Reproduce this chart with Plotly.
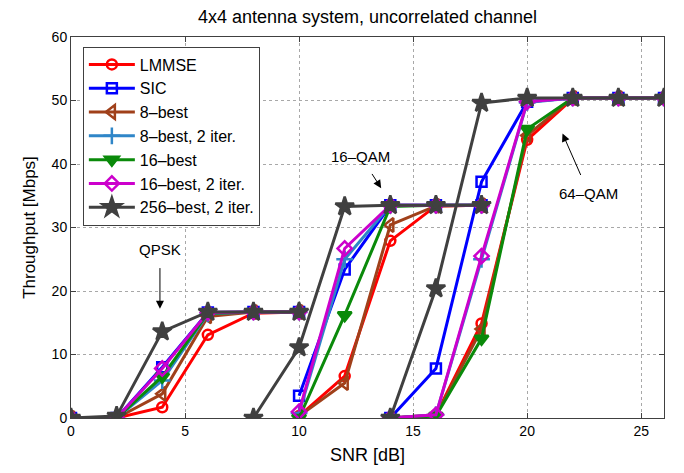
import plotly.graph_objects as go

# SNR grids for each modulation regime
snr_qpsk = [0, 2, 4, 6, 8, 10]
snr_16qam = [8, 10, 12, 14, 16, 18]
snr_64qam = [14, 16, 18, 20, 22, 24, 26]

series_names = ["LMMSE", "SIC", "8\u2013best", "8\u2013best, 2 iter.", "16\u2013best",
                "16\u2013best, 2 iter.", "256\u2013best, 2 iter."]

# Throughput [Mbps]; None = no point at that SNR
qpsk = {
    "LMMSE":   [0, 0, 1.7, 13.1, 16.5, 16.7],
    "SIC":     [0, 0, 8.0, 16.6, 16.7, 16.7],
    "8b":      [0, 0, 3.8, 16.0, 16.7, 16.7],
    "8b2":     [0, 0, 5.9, 16.4, 16.7, 16.7],
    "16b":     [0, 0, 6.5, 16.5, 16.7, 16.7],
    "16b2":    [0, 0, 7.8, 16.6, 16.7, 16.7],
    "256b2":   [0, 0.3, 13.6, 16.7, 16.7, 16.7],
}
qam16 = {
    "LMMSE":   [None, 0.3, 6.6, 27.9, 33.4, 33.5],
    "SIC":     [None, 3.5, 23.4, 33.5, 33.5, 33.5],
    "8b":      [None, 0.3, 5.5, 30.4, 33.4, 33.5],
    "8b2":     [None, 0.8, 25.0, 33.5, 33.5, 33.5],
    "16b":     [None, 0.0, 16.2, 33.3, 33.5, 33.5],
    "16b2":    [None, 1.0, 26.7, 33.5, 33.5, 33.5],
    "256b2":   [0.0, 11.1, 33.3, 33.5, 33.5, 33.5],
}
qam64 = {
    "LMMSE":   [0, 0.5, 14.9, 43.8, 50.3, 50.4, 50.4],
    "SIC":     [0, 7.8, 37.2, 49.8, 50.4, 50.4, 50.4],
    "8b":      [0, 0.4, 14.0, 44.5, 50.4, 50.4, 50.4],
    "8b2":     [0, 0.5, 25.0, 49.7, 50.4, 50.4, 50.4],
    "16b":     [0, 0.3, 12.5, 45.5, 50.4, 50.4, 50.4],
    "16b2":    [0, 0.5, 25.5, 49.8, 50.4, 50.4, 50.4],
    "256b2":   [0, 20.4, 49.6, 50.4, 50.4, 50.4, 50.4],
}

keys = ["LMMSE", "SIC", "8b", "8b2", "16b", "16b2", "256b2"]
colors = ["#ff0000", "#0000ff", "#a0401a", "#2f86c8", "#0a8a0a", "#cc00cc", "#404040"]
symbols = ["circle-open", "square-open", "triangle-left-open", "cross-thin-open",
           "triangle-down", "diamond-open", "star"]
msizes = [10, 10, 12, 12, 12, 11, 14]

FONT = "Liberation Sans, Arial, sans-serif"

fig = go.Figure()
for k, name, c, s, ms in zip(keys, series_names, colors, symbols, msizes):
    xs, ys = [], []
    for grid, d in ((snr_qpsk, qpsk), (snr_16qam, qam16), (snr_64qam, qam64)):
        for x, y in zip(grid, d[k]):
            if y is not None:
                xs.append(x)
                ys.append(y)
        xs.append(None)
        ys.append(None)
    fig.add_trace(go.Scatter(
        x=xs, y=ys, name=name, mode="lines+markers", connectgaps=False,
        line=dict(color=c, width=3),
        marker=dict(symbol=s, size=ms, color=c, line=dict(color=c, width=2.5)),
    ))

ann_font = dict(family=FONT, size=15, color="black")
annotations = [
    dict(text="QPSK", x=3.9, y=17.2, ax=3.9, ay=26.6),
    dict(text="16\u2013QAM", x=13.6, y=36.2, ax=12.7, ay=41.2),
    dict(text="64\u2013QAM", x=21.55, y=44.8, ax=22.7, ay=35.4),
]
for a in annotations:
    fig.add_annotation(
        text=a["text"], x=a["x"], y=a["y"], ax=a["ax"], ay=a["ay"],
        xref="x", yref="y", axref="x", ayref="y",
        showarrow=True, arrowhead=2, arrowsize=1.6, arrowwidth=1, arrowcolor="black",
        font=ann_font, standoff=0, startstandoff=9,
    )

axis_common = dict(
    showline=True, linecolor="#404040", linewidth=1, mirror="ticks",
    showgrid=True, gridcolor="#a8a8a8", griddash="dot", gridwidth=1,
    ticks="inside", ticklen=5, tickcolor="#404040", zeroline=False,
    tickfont=dict(family=FONT, size=14, color="black"),
)

fig.update_layout(
    width=676, height=465,
    margin=dict(l=63, r=20, t=29, b=55),
    paper_bgcolor="white", plot_bgcolor="white",
    title=dict(text="4x4 antenna system, uncorrelated channel", x=0.5, xanchor="center",
               xref="paper", y=0.981, yanchor="middle",
               font=dict(family=FONT, size=18, color="black")),
    xaxis=dict(range=[0, 26], tickvals=[0, 5, 10, 15, 20, 25],
               title=dict(text="SNR [dB]", standoff=10,
                          font=dict(family=FONT, size=18, color="black")),
               **axis_common),
    yaxis=dict(range=[0, 60], tickvals=[0, 10, 20, 30, 40, 50, 60],
               title=dict(text="Throughput [Mbps]", standoff=11,
                          font=dict(family=FONT, size=17, color="black")),
               **axis_common),
    legend=dict(x=0.02, y=0.975, xanchor="left", yanchor="top",
                bgcolor="white", bordercolor="#404040", borderwidth=1,
                font=dict(family=FONT, size=16, color="black"),
                tracegroupgap=0, itemwidth=46),
    showlegend=True,
)

fig.write_html("out.html")
